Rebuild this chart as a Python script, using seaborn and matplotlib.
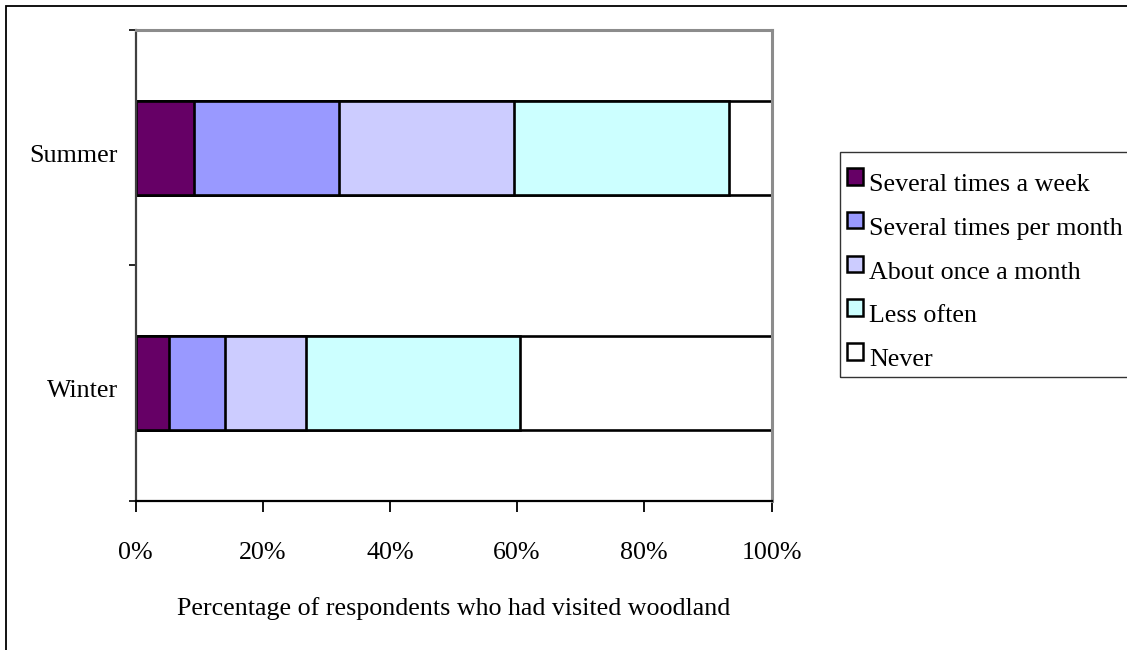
import matplotlib
matplotlib.use("Agg")
import matplotlib.pyplot as plt
import matplotlib.patches as mpatches
import matplotlib.transforms as mtransforms
from matplotlib.legend_handler import HandlerPatch
from matplotlib.ticker import PercentFormatter
import numpy as np
import pandas as pd
import seaborn as sns

# Survey data: share of respondents (%) by visit frequency
seasons = ["Summer", "Winter"]
categories = ["Several times a week", "Several times per month",
              "About once a month", "Less often", "Never"]
several_week = [9.2, 5.2]
several_month = [22.8, 8.8]
once_month = [27.5, 12.8]
less_often = [33.8, 33.6]
never = [6.7, 39.6]
colors = ["#660066", "#9999FF", "#CCCCFF", "#CCFFFF", "#FFFFFF"]
xticks = [0, 20, 40, 60, 80, 100]
xlabel = "Percentage of respondents who had visited woodland"

sns.set_style("white")
plt.rcParams["font.family"] = ["Liberation Serif", "DejaVu Serif"]
plt.rcParams["text.color"] = "black"
FS = 18.7

series = [several_week, several_month, once_month, less_often, never]
cum = np.cumsum(np.array(series), axis=0)
rows = []
for ci, cat in enumerate(categories):
    for si, s in enumerate(seasons):
        rows.append({"category": cat, "season": s, "cum": cum[ci, si]})
df = pd.DataFrame(rows)

W, H = 1127, 650
fig = plt.figure(figsize=(W / 100, H / 100), dpi=100)
ax = fig.add_axes([135.5 / W, 149.3 / H, 636 / W, 470.7 / H])

# stacked bars: draw cumulative totals from the outermost segment inwards
for cat, col in reversed(list(zip(categories, colors))):
    sns.barplot(data=df[df["category"] == cat], x="cum", y="season",
                order=seasons, orient="h", color=col, saturation=1,
                width=0.4, edgecolor="black", linewidth=1.9,
                errorbar=None, ax=ax)

ax.set_xlim(0, 100)
ax.set_ylim(1.5, -0.5)
ax.set_xticks(xticks)
ax.xaxis.set_major_formatter(PercentFormatter(xmax=100, decimals=0))
ax.tick_params(axis="x", bottom=True, length=8, width=1.3, color="black",
               direction="out", pad=22, labelsize=FS, labelcolor="black")
ax.set_yticks([0, 1])
ax.set_yticklabels(seasons)
ax.set_yticks([-0.5, 0.5, 1.5], minor=True)
ax.tick_params(axis="y", which="major", left=False, length=0, pad=12.6,
               labelsize=FS, labelcolor="black")
ax.tick_params(axis="y", which="minor", left=True, length=5, width=1.2,
               color="black", direction="out")
ax.set_ylabel("")
shift = mtransforms.ScaledTranslation(0, -5.5 / 100, fig.dpi_scale_trans)
for lab in ax.get_yticklabels():
    lab.set_transform(lab.get_transform() + shift)

ax.set_xlabel(xlabel, fontsize=FS, color="black")
ax.xaxis.label.set_va("center")
ax.xaxis.set_label_coords(0.5, -0.2300)

for side in ["top", "right"]:
    ax.spines[side].set_color("#8c8c8c")
    ax.spines[side].set_linewidth(2.2)
ax.spines["left"].set_color("#404040")
ax.spines["left"].set_linewidth(1.6)
ax.spines["bottom"].set_color("black")
ax.spines["bottom"].set_linewidth(1.6)


def raised_square(legend, orig_handle, xdescent, ydescent, width, height, fontsize):
    return mpatches.Rectangle((-xdescent, -ydescent + 0.22 * fontsize), width, height)


handles = [mpatches.Patch(facecolor=c, edgecolor="black", linewidth=1.8) for c in colors]
fig.legend(handles, categories, loc="upper left",
           bbox_to_anchor=(847 / W, (H - 174) / H), frameon=False,
           fontsize=FS, labelcolor="black", handlelength=0.6, handleheight=0.6,
           handletextpad=0.25, labelspacing=0.82, borderpad=0,
           borderaxespad=0,
           handler_map={mpatches.Patch: HandlerPatch(patch_func=raised_square)})

# legend box and outer chart frame
fig.patches.append(mpatches.Rectangle((840 / W, (H - 377) / H), 400 / W, 225 / H,
                                      transform=fig.transFigure, fill=False,
                                      edgecolor="#333333", linewidth=1.0))
fig.patches.append(mpatches.Rectangle((6 / W, -0.1), 1.2, (H - 6) / H + 0.1,
                                      transform=fig.transFigure, fill=False,
                                      edgecolor="black", linewidth=1.3))

fig.savefig("out.png", dpi=100)
